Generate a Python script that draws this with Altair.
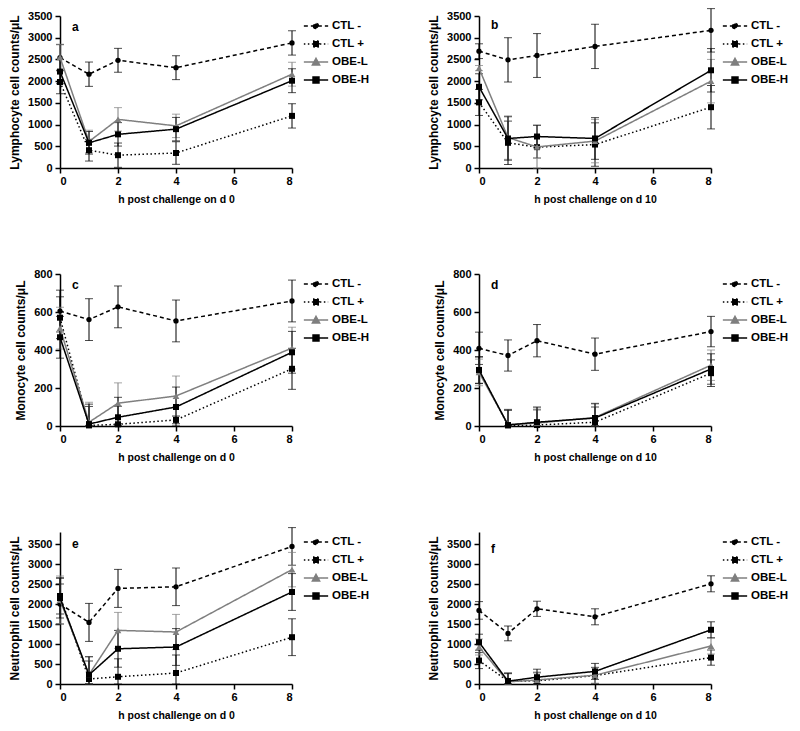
import altair as alt
import pandas as pd

FONT = "Liberation Sans"

hours = [0, 1, 2, 4, 8]
groups = ["CTL -", "CTL +", "OBE-L", "OBE-H"]
x_ticks = [0, 2, 4, 6, 8]

# a: lymphocytes, challenge on d 0
lym_d0_mean = [
    [2540, 2160, 2480, 2310, 2880],
    [1980, 410, 295, 345, 1200],
    [2550, 610, 1120, 970, 2160],
    [2220, 580, 775, 895, 2010],
]
lym_d0_se = [
    [300, 280, 275, 275, 280],
    [270, 250, 280, 260, 280],
    [300, 260, 270, 270, 275],
    [280, 260, 270, 270, 275],
]
# b: lymphocytes, challenge on d 10
lym_d10_mean = [
    [2690, 2490, 2590, 2800, 3170],
    [1510, 580, 480, 540, 1400],
    [2300, 700, 485, 620, 2000],
    [1870, 680, 725, 680, 2250],
]
lym_d10_se = [
    [170, 510, 505, 510, 500],
    [300, 500, 250, 500, 500],
    [60, 500, 500, 500, 500],
    [300, 500, 260, 480, 500],
]
# c: monocytes, challenge on d 0
mono_d0_mean = [
    [605, 560, 627, 553, 658],
    [570, 3, 9, 32, 301],
    [515, 20, 120, 158, 410],
    [467, 10, 46, 100, 388],
]
mono_d0_se = [
    [110, 110, 110, 110, 110],
    [110, 100, 95, 20, 108],
    [110, 105, 107, 105, 110],
    [110, 105, 105, 105, 110],
]
# d: monocytes, challenge on d 10
mono_d10_mean = [
    [409, 371, 449, 378, 497],
    [293, 3, 5, 20, 278],
    [282, 8, 15, 45, 320],
    [295, 5, 20, 42, 300],
]
mono_d10_se = [
    [85, 82, 85, 85, 80],
    [70, 80, 80, 80, 70],
    [70, 80, 80, 75, 80],
    [70, 80, 80, 75, 80],
]
# e: neutrophils, challenge on d 0
neu_d0_mean = [
    [2000, 1540, 2390, 2430, 3440],
    [2200, 125, 180, 275, 1170],
    [2100, 235, 1340, 1300, 2860],
    [2150, 230, 880, 925, 2300],
]
neu_d0_se = [
    [500, 475, 475, 470, 470],
    [450, 450, 450, 450, 460],
    [600, 450, 450, 440, 430],
    [500, 450, 460, 460, 460],
]
# f: neutrophils, challenge on d 10
neu_d10_mean = [
    [1840, 1265, 1880, 1680, 2505],
    [585, 73, 80, 210, 660],
    [925, 55, 100, 220, 950],
    [1045, 70, 170, 315, 1355],
]
neu_d10_se = [
    [220, 185, 190, 200, 200],
    [200, 200, 200, 200, 190],
    [200, 200, 200, 200, 200],
    [200, 200, 200, 200, 200],
]

# styles
colors = ["#000000", "#000000", "#7f7f7f", "#000000"]
dashes = [[4, 3], [1.5, 2.5], [1, 0], [1, 0]]
point_shapes = ["circle", "square", "triangle-up", "square"]
point_sizes = [28, 36, 45, 36]
legend_paths = [
    "M-1.35,0H1.35M-0.28,0A0.28,0.28 0 1,0 0.28,0A0.28,0.28 0 1,0 -0.28,0Z",
    "M-1.35,0H1.35M-0.33,-0.33H0.33V0.33H-0.33Z",
    "M-1.35,0H1.35M0,-0.4L0.4,0.32H-0.4Z",
    "M-1.35,0H1.35M-0.33,-0.33H0.33V0.33H-0.33Z",
]


def frame(means, ses):
    rows = []
    for g, m_row, s_row in zip(groups, means, ses):
        for h, m, s in zip(hours, m_row, s_row):
            rows.append({"group": g, "h": h, "mean": m, "se": s})
    return pd.DataFrame(rows)


def panel(means, ses, letter, ytitle, xtitle, ymax, yticks):
    df = frame(means, ses)
    base = alt.Chart(df).transform_calculate(
        lo="max(0, datum.mean - datum.se)", hi="datum.mean + datum.se"
    )

    def X():
        return alt.X("h:Q", scale=alt.Scale(domain=[0, 8], nice=False, zero=False),
                     axis=alt.Axis(values=x_ticks, title=xtitle, format="d"))

    def Y(field):
        return alt.Y(f"{field}:Q", scale=alt.Scale(domain=[0, ymax], nice=False, zero=True),
                     axis=alt.Axis(values=yticks, title=ytitle, format="d"))

    leg = alt.Legend(orient="right", offset=14)
    legend_layer = base.mark_point(filled=False, opacity=0, strokeWidth=1.5).encode(
        x=X(), y=Y("mean"),
        shape=alt.Shape("group:N", title=None, scale=alt.Scale(domain=groups, range=legend_paths), legend=leg),
        color=alt.Color("group:N", title=None, scale=alt.Scale(domain=groups, range=colors), legend=leg),
        fill=alt.Fill("group:N", title=None, scale=alt.Scale(domain=groups, range=colors), legend=leg),
        strokeDash=alt.StrokeDash("group:N", title=None, scale=alt.Scale(domain=groups, range=dashes), legend=leg),
    )
    layers = [legend_layer]
    for i, g in enumerate(groups):
        sub = base.transform_filter(alt.datum.group == g)
        layers.append(sub.mark_rule(color=colors[i], strokeWidth=1).encode(x=X(), y=Y("lo"), y2="hi:Q"))
        layers.append(sub.mark_tick(orient="horizontal", color=colors[i], size=8, thickness=1).encode(x=X(), y=Y("lo")))
        layers.append(sub.mark_tick(orient="horizontal", color=colors[i], size=8, thickness=1).encode(x=X(), y=Y("hi")))
    for i, g in enumerate(groups):
        sub = base.transform_filter(alt.datum.group == g)
        layers.append(sub.mark_line(color=colors[i], strokeWidth=1.5, strokeDash=dashes[i]).encode(x=X(), y=Y("mean")))
        layers.append(sub.mark_point(shape=point_shapes[i], filled=True, size=point_sizes[i],
                                     color=colors[i], opacity=1).encode(x=X(), y=Y("mean")))
    return alt.layer(*layers).properties(
        width=232, height=152,
        title=alt.TitleParams(text=letter, anchor="start", frame="group", dx=12, dy=24, offset=0,
                              fontSize=12, fontWeight="bold", font=FONT, color="black"),
    )


lym_ticks = [0, 500, 1000, 1500, 2000, 2500, 3000, 3500]
mono_ticks = [0, 200, 400, 600, 800]
neu_ticks = [0, 500, 1000, 1500, 2000, 2500, 3000, 3500]

panels = [
    panel(lym_d0_mean, lym_d0_se, "a", "Lymphocyte cell counts/μL", "h post challenge on d 0", 3500, lym_ticks),
    panel(lym_d10_mean, lym_d10_se, "b", "Lymphocyte cell counts/μL", "h post challenge on d 10", 3500, lym_ticks),
    panel(mono_d0_mean, mono_d0_se, "c", "Monocyte cell counts/μL", "h post challenge on d 0", 800, mono_ticks),
    panel(mono_d10_mean, mono_d10_se, "d", "Monocyte cell counts/μL", "h post challenge on d 10", 800, mono_ticks),
    panel(neu_d0_mean, neu_d0_se, "e", "Neutrophil cell counts/μL", "h post challenge on d 0", 3800, neu_ticks),
    panel(neu_d10_mean, neu_d10_se, "f", "Neutrophil cell counts/μL", "h post challenge on d 10", 3800, neu_ticks),
]

chart = alt.concat(
    *panels, columns=2, spacing={"row": 106, "column": 187}, bounds="flush"
).resolve_scale(
    x="independent", y="independent", color="independent", fill="independent",
    shape="independent", strokeDash="independent",
).resolve_legend(
    color="independent", fill="independent", shape="independent", strokeDash="independent",
).properties(
    padding={"left": 0, "top": 0, "right": 0, "bottom": 0}
).configure_view(stroke=None).configure_axis(
    domainColor="black", domainWidth=1.5, tickColor="black", tickWidth=1.5, tickSize=5,
    labelFont=FONT, labelFontWeight="bold", labelColor="black", labelFontSize=11,
    titleFont=FONT, titleFontWeight="bold", titleColor="black", grid=False,
).configure_axisY(titleFontSize=12, titlePadding=6, labelPadding=3).configure_axisX(
    titleFontSize=10.5, titlePadding=8, labelPadding=2
).configure_legend(
    labelFont=FONT, labelFontSize=11.5, labelFontWeight="bold", labelColor="black",
    symbolSize=324, symbolStrokeWidth=1.5, symbolOpacity=1, rowPadding=2, labelOffset=6,
)

chart.save("out.html", embed_options={"renderer": "svg", "actions": False})
